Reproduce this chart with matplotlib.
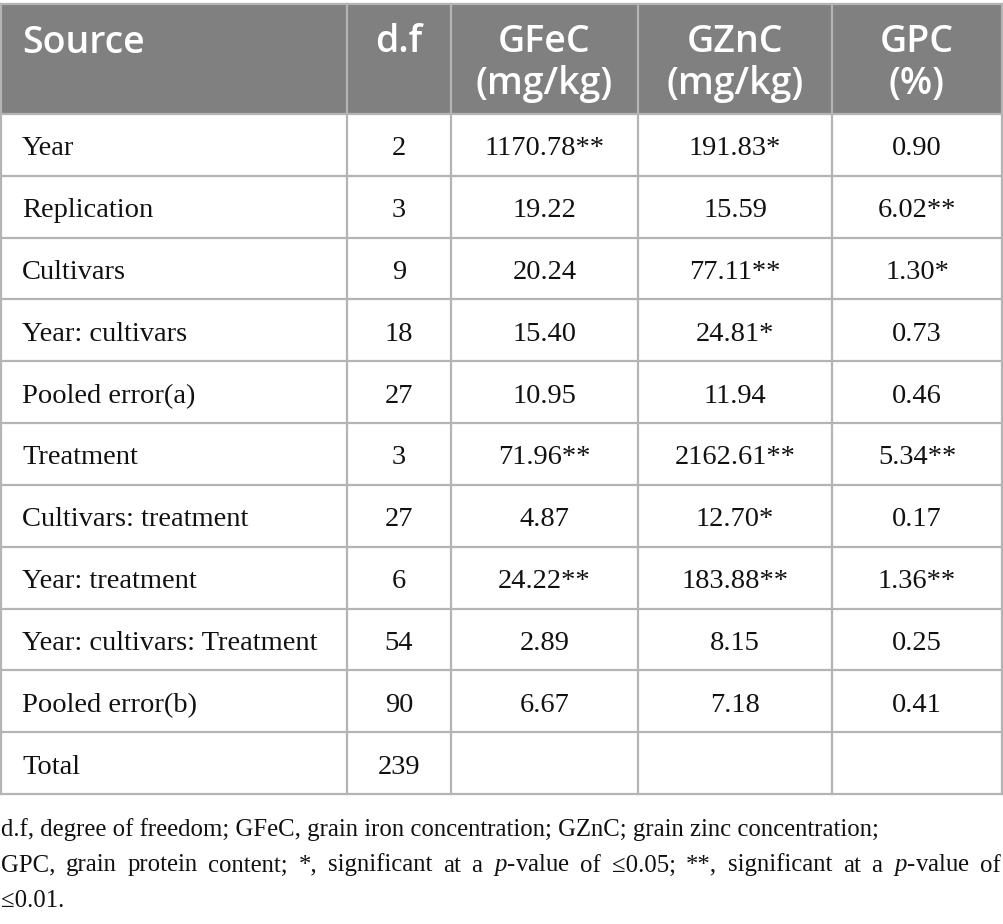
import matplotlib
matplotlib.use("Agg")
import matplotlib.pyplot as plt
from matplotlib.patches import Rectangle

plt.rcParams['mathtext.fontset'] = 'custom'
plt.rcParams['mathtext.rm'] = 'Liberation Serif'
plt.rcParams['mathtext.it'] = 'Liberation Serif:italic'

# table content
headers = ["Source", "d.f", "GFeC\n(mg/kg)", "GZnC\n(mg/kg)", "GPC\n(%)"]
sources = ["Year", "Replication", "Cultivars", "Year: cultivars", "Pooled error(a)",
           "Treatment", "Cultivars: treatment", "Year: treatment",
           "Year: cultivars: Treatment", "Pooled error(b)", "Total"]
df_vals = ["2", "3", "9", "18", "27", "3", "27", "6", "54", "90", "239"]
gfec = ["1170.78**", "19.22", "20.24", "15.40", "10.95", "71.96**", "4.87",
        "24.22**", "2.89", "6.67", ""]
gznc = ["191.83*", "15.59", "77.11**", "24.81*", "11.94", "2162.61**", "12.70*",
        "183.88**", "8.15", "7.18", ""]
gpc = ["0.90", "6.02**", "1.30*", "0.73", "0.46", "5.34**", "0.17", "1.36**",
       "0.25", "0.41", ""]
footnote = [
    "d.f, degree of freedom; GFeC, grain iron concentration; GZnC; grain zinc concentration;",
    "GPC, grain protein content; *, significant at a $p$-value of ≤0.05; **, significant at a $p$-value of",
    "≤0.01.",
]
justify = [False, True, False]

# layout (pixels)
W, H = 1004, 924
col_edges = [1, 347, 451, 638, 832, 1002]
top, head_bot, bottom = 4, 114, 794
n_rows = len(sources)
row_h = (bottom - head_bot) / n_rows

fig = plt.figure(figsize=(W / 100, H / 100), dpi=100)
ax = fig.add_axes([0, 0, 1, 1])
ax.set_xlim(0, W)
ax.set_ylim(H, 0)
ax.axis("off")

# header band
ax.add_patch(Rectangle((col_edges[0], top), col_edges[-1] - col_edges[0],
                       head_bot - top, facecolor="#808080", edgecolor="none", zorder=1))

line_c = "#b4b4b4"
for x in col_edges:
    ax.plot([x, x], [top, bottom], color=line_c, lw=1.6, zorder=2)
ax.plot([col_edges[0], col_edges[-1]], [top, top], color=line_c, lw=1.6, zorder=2)
for i in range(n_rows + 1):
    y = head_bot + i * row_h
    ax.plot([col_edges[0], col_edges[-1]], [y, y], color=line_c, lw=1.6, zorder=2)

# header text
hfont = dict(family="Open Sans", size=27, weight="semibold", color="white", zorder=3)
for j, h in enumerate(headers):
    if j == 0:
        ax.text(col_edges[0] + 21, 43, h, ha="left", va="center", **hfont)
    else:
        cx = (col_edges[j] + col_edges[j + 1]) / 2
        lines = h.split("\n")
        for k, ln in enumerate(lines):
            ax.text(cx, 42 + k * 42, ln, ha="center", va="center", **hfont)

# body text
bfont = dict(family="Liberation Serif", size=20.5, color="#111111", zorder=3)
columns = [df_vals, gfec, gznc, gpc]
for i in range(n_rows):
    cy = head_bot + (i + 0.5) * row_h + 4
    ax.text(col_edges[0] + 21, cy, sources[i], ha="left", va="center", **bfont)
    for j, col in enumerate(columns, start=1):
        cx = (col_edges[j] + col_edges[j + 1]) / 2
        ax.text(cx, cy, col[i], ha="center", va="center", **bfont)

# footnote, justified like the journal layout
ffont = dict(family="Liberation Serif", size=17.8, color="#111111")
renderer = fig.canvas.get_renderer()
x0, x1 = 1, 1001
for k, ln in enumerate(footnote):
    yb = 836 + k * 35.5
    if not justify[k]:
        ax.text(x0, yb, ln, ha="left", va="baseline", **ffont)
        continue
    words = ln.split(" ")
    arts = [ax.text(0, yb, w, ha="left", va="baseline", **ffont) for w in words]
    widths = [a.get_window_extent(renderer).width for a in arts]
    gap = (x1 - x0 - sum(widths)) / (len(words) - 1)
    x = x0
    for a, w in zip(arts, widths):
        a.set_x(x)
        x += w + gap

fig.savefig("out.png", dpi=100)
